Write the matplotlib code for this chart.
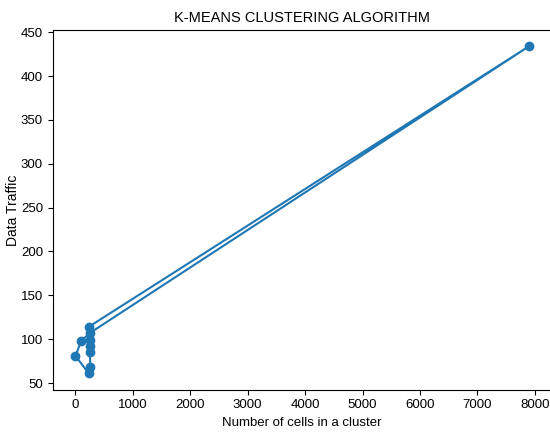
import matplotlib
matplotlib.use("Agg")
import matplotlib.pyplot as plt

plt.rcParams['font.family'] = ['Liberation Sans', 'DejaVu Sans']

# cluster sizes and mean traffic per cluster (in plotting order)
cells = [250, 250, 250, 260, 230, 0, 100, 250, 7900, 230]
traffic = [99, 92, 85, 68, 61, 81, 98, 107, 434, 114]

fig = plt.figure(figsize=(5.5, 4.34), dpi=100)
ax = fig.add_axes([0.096, 0.102, 0.907, 0.829])

ax.plot(cells, traffic, marker='o', color='#1f77b4', linewidth=1.5, markersize=6)

ax.set_title('K-MEANS CLUSTERING ALGORITHM', fontsize=10.5)
ax.set_xlabel('Number of cells in a cluster', fontsize=9.5)
ax.set_ylabel('Data Traffic', fontsize=10)
ax.yaxis.set_label_coords(-0.066, 0.5)
ax.tick_params(labelsize=9.5)

fig.savefig('out.png', dpi=100)
